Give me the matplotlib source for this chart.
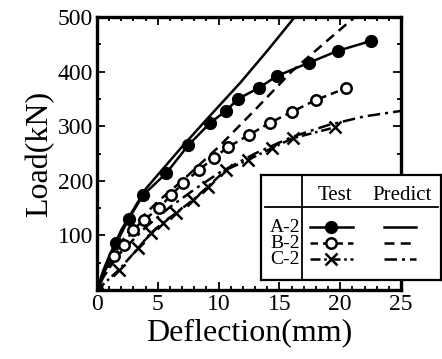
import matplotlib
matplotlib.use("Agg")
import matplotlib.pyplot as plt
from matplotlib.ticker import MultipleLocator

plt.rcParams['font.family'] = ['Liberation Serif', 'DejaVu Serif']

# Test results
a2_test_x = [0, 1.6, 2.6, 3.8, 5.7, 7.5, 9.3, 10.6, 11.6, 13.3, 14.8, 17.4, 19.8, 22.5]
a2_test_y = [0, 86, 130, 174, 214, 265, 306, 328, 350, 370, 392, 416, 438, 456]

b2_test_x = [0, 1.4, 2.2, 2.95, 3.85, 5.1, 6.1, 7.1, 8.4, 9.6, 10.8, 12.5, 14.2, 16.0, 18.0, 20.5]
b2_test_y = [0, 62, 82, 110, 128, 150, 174, 196, 220, 242, 262, 284, 306, 326, 348, 370]

c2_test_x = [0, 1.8, 3.4, 4.4, 5.4, 6.5, 7.9, 9.1, 10.6, 12.4, 14.4, 16.1, 19.6]
c2_test_y = [0, 37, 77, 104, 123, 141, 165, 189, 220, 238, 260, 278, 298]

# Predicted curves
a2_pred_x = [0, 0.5, 1, 2, 4, 6.9, 9, 11.8, 14, 15.9, 16.5]
a2_pred_y = [0, 35, 62, 110, 185, 260, 312, 380, 438, 490, 507]

b2_pred_x = [0, 0.5, 1, 2, 3, 5, 7, 10, 13, 16, 19, 21.2, 22]
b2_pred_y = [0, 30, 50, 88, 118, 162, 200, 262, 330, 400, 458, 500, 515]

c2_pred_x = [0, 0.5, 1, 2, 4, 6, 8, 10, 13, 16, 19, 22, 25]
c2_pred_y = [0, 22, 40, 70, 115, 152, 184, 214, 250, 280, 302, 318, 328]

x_ticks = [0, 5, 10, 15, 20, 25]
y_ticks = [100, 200, 300, 400, 500]

fig = plt.figure(figsize=(4.42, 3.59), dpi=100)
ax = fig.add_axes([97 / 442, 1 - 290 / 359, 304 / 442, 273 / 359])

lw = 1.8
ax.plot(a2_pred_x, a2_pred_y, color='black', lw=lw, ls='-')
ax.plot(b2_pred_x, b2_pred_y, color='black', lw=lw, ls=(0, (4, 2.5)))
ax.plot(c2_pred_x, c2_pred_y, color='black', lw=lw, ls=(0, (5, 2, 1.2, 2)))

ax.plot(a2_test_x, a2_test_y, color='black', lw=lw, ls='-',
        marker='o', ms=8.5, mfc='black', mec='black')
ax.plot(b2_test_x, b2_test_y, color='black', lw=lw, ls=(0, (3, 2)),
        marker='o', ms=7.5, mfc='white', mec='black', mew=1.8)
ax.plot(c2_test_x, c2_test_y, color='black', lw=lw, ls=(0, (4, 1.5, 1, 1.5)),
        marker='x', ms=9, mec='black', mew=1.8)

ax.set_xlim(0, 25)
ax.set_ylim(0, 500)
ax.set_xticks(x_ticks)
ax.set_yticks(y_ticks)
ax.xaxis.set_minor_locator(MultipleLocator(1))
ax.yaxis.set_minor_locator(MultipleLocator(50))
ax.tick_params(which='both', direction='in', top=True, right=True,
               labelsize=17, width=1.3, pad=3)
ax.tick_params(which='major', length=6)
ax.tick_params(which='minor', length=3)
for s in ax.spines.values():
    s.set_linewidth(2.4)

ax.set_xlabel("Deflection(mm)", fontsize=23, labelpad=2)
ax.set_ylabel("Load(kN)", fontsize=23, labelpad=2)

# Table-style legend
lax = fig.add_axes([261 / 442, 1 - 280 / 359, 180 / 442, 105 / 359])
lax.set_xlim(0, 180)
lax.set_ylim(105, 0)
lax.set_xticks([])
lax.set_yticks([])
lax.set_facecolor('white')
for s in lax.spines.values():
    s.set_linewidth(1.6)

lax.plot([41, 41], [0, 105], color='black', lw=1.3)
lax.plot([4, 177], [32, 32], color='black', lw=1.3)
lax.text(74, 21, "Test", fontsize=15, ha='center', va='center')
lax.text(141, 21, "Predict", fontsize=15, ha='center', va='center')

rows = ["A-2", "B-2", "C-2"]
row_y = [52, 68, 84]
test_ls = ['-', (0, (3, 2)), (0, (4, 1.5, 1, 1.5))]
pred_ls = ['-', (0, (4, 2.5)), (0, (5, 2, 1.2, 2))]
marks = [dict(marker='o', ms=8.5, mfc='black', mec='black'),
         dict(marker='o', ms=7.5, mfc='white', mec='black', mew=1.8),
         dict(marker='x', ms=9, mec='black', mew=1.8)]
for name, yy, tl, pl, mk in zip(rows, row_y, test_ls, pred_ls, marks):
    lax.text(39, yy, name, fontsize=14, ha='right', va='center')
    lax.plot([49, 92], [yy, yy], color='black', lw=lw, ls=tl)
    lax.plot([70], [yy], color='black', ls='none', **mk)
    lax.plot([123, 155], [yy, yy], color='black', lw=lw, ls=pl)

fig.savefig("out.png", dpi=100)
